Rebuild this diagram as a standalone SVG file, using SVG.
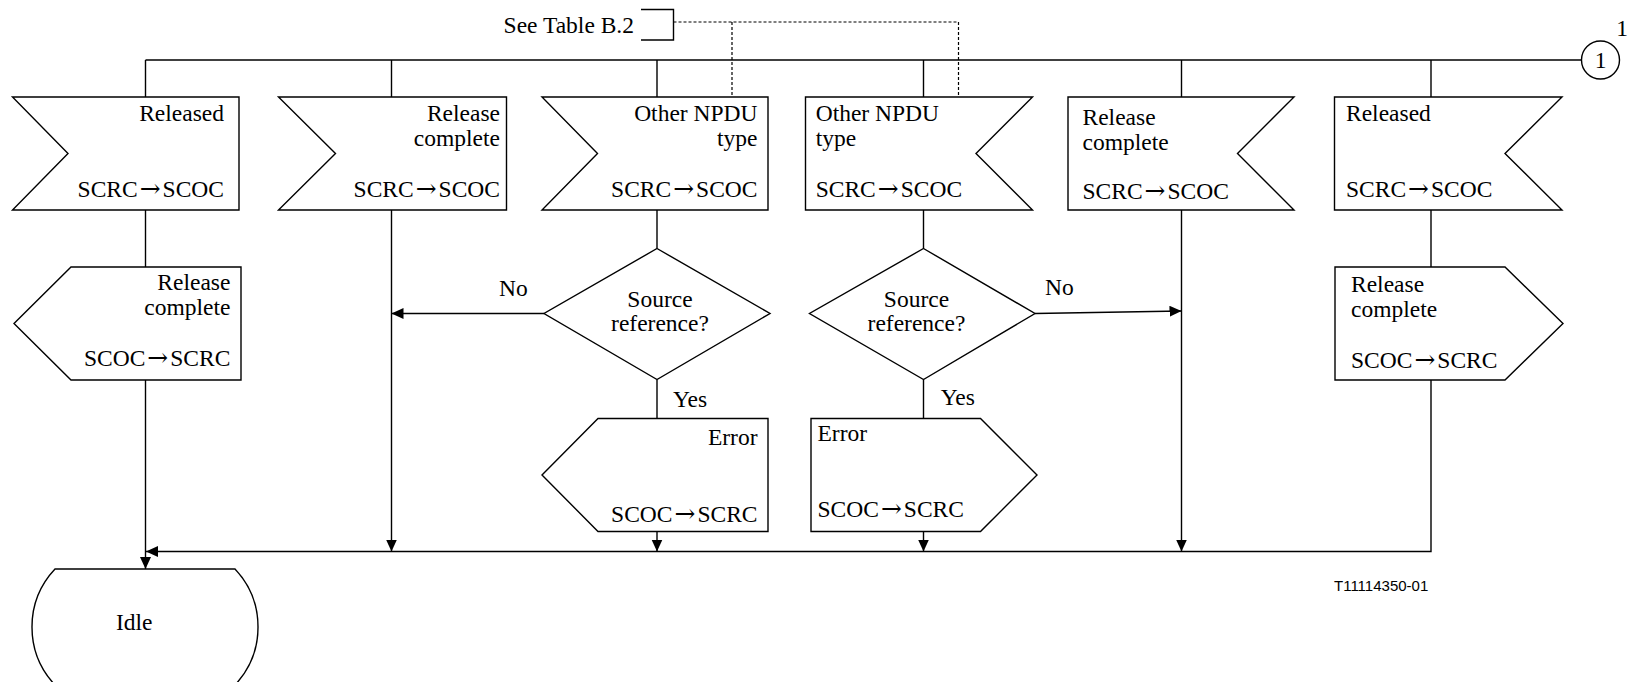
<svg xmlns="http://www.w3.org/2000/svg" width="1628" height="682" viewBox="0 0 1628 682">
<style>
.s{fill:#fff;stroke:#000;stroke-width:1.4}
.c{fill:none;stroke:#000;stroke-width:1.4}
.d{fill:none;stroke:#000;stroke-width:1.2;stroke-dasharray:3 2}
text{font-family:"Liberation Serif","Times New Roman",serif;font-size:23.5px;fill:#000}
.a{font-family:"DejaVu Serif","Liberation Serif",serif;font-size:25px}
.e{text-anchor:end}
.m{text-anchor:middle}
.code{font-family:"Liberation Sans",Arial,sans-serif;font-size:15px}
</style>
<defs>
<marker id="ah" markerUnits="userSpaceOnUse" markerWidth="13" markerHeight="12" refX="12" refY="5.5" orient="auto">
<path d="M0,0 L12,5.5 L0,11 z" fill="#000"/>
</marker>
</defs>
<rect width="1628" height="682" fill="#fff"/>

<g id="connectors">
<path class="c" d="M145.5,60 H1581.5"/>
<path class="c" d="M145.5,60 V97 M391.5,60 V97 M657,60 V97 M923.5,60 V97 M1181.5,60 V97 M1431,60 V97"/>
<path class="c" d="M145.5,210 V267"/>
<path class="c" d="M145.5,380 V569" marker-end="url(#ah)"/>
<path class="c" d="M391.5,210 V551.5" marker-end="url(#ah)"/>
<path class="c" d="M657,210 V248.5 M657,379.5 V418.5"/>
<path class="c" d="M657,531.5 V551.5" marker-end="url(#ah)"/>
<path class="c" d="M923.5,210 V248.5 M923.5,379.5 V418.5"/>
<path class="c" d="M923.5,531.5 V551.5" marker-end="url(#ah)"/>
<path class="c" d="M1181.5,210 V551.5" marker-end="url(#ah)"/>
<path class="c" d="M1431,210 V267"/>
<path class="c" d="M1431,380 V551.5 H146" marker-end="url(#ah)"/>
<path class="c" d="M544,313.5 H391.5" marker-end="url(#ah)"/>
<path class="c" d="M1035,313.5 L1181.5,311" marker-end="url(#ah)"/>
<path class="d" d="M673.5,22 H958.5 V97 M732,22 V97"/>
</g>

<g id="comment">
<path class="c" d="M641,9.5 H673.5 V40 H641"/>
<text class="e" x="634" y="33">See Table B.2</text>
</g>

<g id="connector1">
<circle class="s" cx="1600.5" cy="60" r="19"/>
<text class="m" x="1600.5" y="68">1</text>
<text class="e" x="1628" y="36">1</text>
</g>

<g id="in1">
<polygon class="s" points="12.5,97 239,97 239,210 12.5,210 68,153.5"/>
<text class="e" x="224" y="120.7">Released</text>
<text class="e" x="224" y="196.7">SCRC<tspan class="a" dx="2">→</tspan><tspan dx="2">SCOC</tspan></text>
</g>
<g id="in2">
<polygon class="s" points="278.5,97 506.5,97 506.5,210 278.5,210 335.5,153.5"/>
<text class="e" x="500" y="120.7">Release</text>
<text class="e" x="500" y="145.7">complete</text>
<text class="e" x="500" y="196.7">SCRC<tspan class="a" dx="2">→</tspan><tspan dx="2">SCOC</tspan></text>
</g>
<g id="in3">
<polygon class="s" points="542,97 768,97 768,210 542,210 597.5,153.5"/>
<text class="e" x="757.5" y="120.7">Other NPDU</text>
<text class="e" x="757.5" y="145.7">type</text>
<text class="e" x="757.5" y="196.7">SCRC<tspan class="a" dx="2">→</tspan><tspan dx="2">SCOC</tspan></text>
</g>
<g id="in4">
<polygon class="s" points="805.5,97 1032.5,97 976,153.5 1032.5,210 805.5,210"/>
<text x="815.7" y="120.7">Other NPDU</text>
<text x="815.7" y="145.7">type</text>
<text x="815.7" y="196.7">SCRC<tspan class="a" dx="2">→</tspan><tspan dx="2">SCOC</tspan></text>
</g>
<g id="in5">
<polygon class="s" points="1068,97 1294,97 1237.5,153.5 1294,210 1068,210"/>
<text x="1082.5" y="125">Release</text>
<text x="1082.5" y="150">complete</text>
<text x="1082.5" y="199.3">SCRC<tspan class="a" dx="2">→</tspan><tspan dx="2">SCOC</tspan></text>
</g>
<g id="in6">
<polygon class="s" points="1334.5,97 1562,97 1505,153.5 1562,210 1334.5,210"/>
<text x="1346" y="120.7">Released</text>
<text x="1346" y="196.7">SCRC<tspan class="a" dx="2">→</tspan><tspan dx="2">SCOC</tspan></text>
</g>

<g id="out1">
<polygon class="s" points="14,323.5 71,267 241,267 241,380 71,380"/>
<text class="e" x="230.4" y="290">Release</text>
<text class="e" x="230.4" y="315">complete</text>
<text class="e" x="230.4" y="366">SCOC<tspan class="a" dx="2">→</tspan><tspan dx="2">SCRC</tspan></text>
</g>
<g id="out6">
<polygon class="s" points="1335,267 1505,267 1563,323.5 1505,380 1335,380"/>
<text x="1351" y="291.7">Release</text>
<text x="1351" y="316.7">complete</text>
<text x="1351" y="368.3">SCOC<tspan class="a" dx="2">→</tspan><tspan dx="2">SCRC</tspan></text>
</g>

<g id="dec1">
<polygon class="s" points="657,248.5 770,313.5 657,379.5 544,313.5"/>
<text class="m" x="660" y="306.7">Source</text>
<text class="m" x="660" y="331">reference?</text>
</g>
<g id="dec2">
<polygon class="s" points="923.5,248.5 1035,313.5 923.5,379.5 809.5,313.5"/>
<text class="m" x="916.5" y="306.7">Source</text>
<text class="m" x="916.5" y="331">reference?</text>
</g>

<g id="labels">
<text x="499" y="296">No</text>
<text x="1045" y="295">No</text>
<text x="673" y="406.7">Yes</text>
<text x="940.7" y="405">Yes</text>
</g>

<g id="err1">
<polygon class="s" points="542,475 598,418.5 768,418.5 768,531.5 598,531.5"/>
<text class="e" x="757.5" y="445">Error</text>
<text class="e" x="757.5" y="521.7">SCOC<tspan class="a" dx="2">→</tspan><tspan dx="2">SCRC</tspan></text>
</g>
<g id="err2">
<polygon class="s" points="811,418.5 980.5,418.5 1037,475 980.5,531.5 811,531.5"/>
<text x="817.5" y="440.7">Error</text>
<text x="817.5" y="517.3">SCOC<tspan class="a" dx="2">→</tspan><tspan dx="2">SCRC</tspan></text>
</g>

<g id="idle">
<path class="s" d="M55,569 H235 A84.6,84.6 0 0 1 235,685 H55 A84.6,84.6 0 0 1 55,569 Z"/>
<text x="116" y="630">Idle</text>
</g>

<text class="code" x="1334" y="591">T11114350-01</text>
</svg>
